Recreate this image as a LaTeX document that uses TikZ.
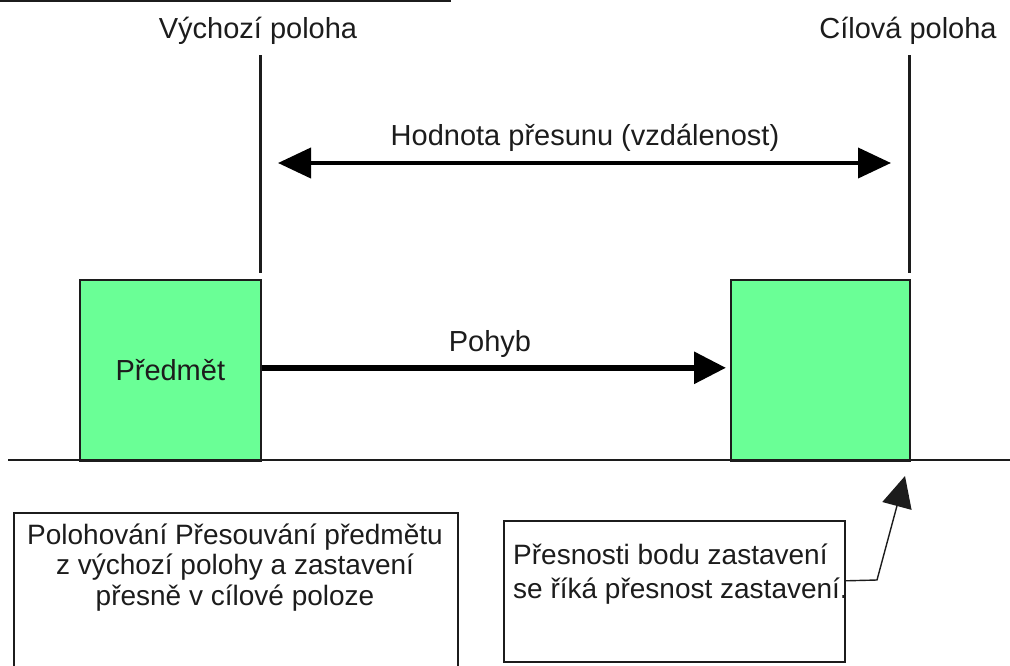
\documentclass[tikz,border=0pt]{standalone}
\usepackage{fontspec}
\setmainfont{Liberation Sans}
\usetikzlibrary{arrows.meta}
\definecolor{boxgreen}{RGB}{106,255,150}
\definecolor{ink}{RGB}{28,28,28}
\begin{document}
\begin{tikzpicture}[x=1pt,y=-1pt,
  lbl/.style={font=\fontsize{29}{31}\selectfont, inner sep=0pt, text=ink},
  notetext/.style={font=\fontsize{28}{30.5}\selectfont, inner sep=0pt, text=ink},
  objbox/.style={draw=ink, line width=1.6pt, fill=boxgreen, minimum width=181pt,
    minimum height=181pt, inner sep=0pt, anchor=north west, text=ink,
    font=\fontsize{29}{31}\selectfont},
  notebox/.style={draw=ink, line width=1.6pt, inner sep=0pt, anchor=north west},
  marker/.style={draw=ink, line width=3pt},
  ground/.style={draw=ink, line width=1.8pt},
  dist/.style={draw=black, line width=4pt,
    {Triangle[length=33pt,width=30pt]}-{Triangle[length=33pt,width=30pt]}},
  move/.style={draw=black, line width=6pt, -{Triangle[length=32pt,width=31pt]}},
  callout/.style={draw=ink, line width=1.4pt, -{Triangle[length=31pt,width=30pt]}}]

\useasboundingbox (0,0) rectangle (1010,665);
\clip (0,0) rectangle (1010,665);

% rule across the top edge
\coordinate (ruleA) at (0,1);
\coordinate (ruleB) at (451,1);
\draw[ground] (ruleA) -- (ruleB);

% position labels and their markers
\node[lbl, anchor=base] (startlbl) at (258,38) {Výchozí poloha};
\node[lbl, anchor=base] (goallbl) at (908,38) {Cílová poloha};
\coordinate (startTop) at (260,55);
\coordinate (startBot) at (260,273);
\coordinate (goalTop) at (909,55);
\coordinate (goalBot) at (909,273);
\draw[marker] (startTop) -- (startBot);
\draw[marker] (goalTop) -- (goalBot);

% travel distance
\coordinate (distL) at (278,163);
\coordinate (distR) at (891,163);
\draw[dist] (distL) -- (distR);
\node[lbl, anchor=base] (distlbl) at (585,145) {Hodnota přesunu (vzdálenost)};

% object at the start and at the target
\node[objbox] (obj) at (79,279) {Předmět};
\node[objbox, minimum width=179pt] (goal) at (730,279) {};

% movement
\draw[move, shorten >=4pt] ([yshift=2.5pt]obj.east) -- ([yshift=2.5pt]goal.west);
\node[lbl, anchor=base] (movelbl) at (490,351) {Pohyb};

% floor
\coordinate (floorL) at (8,460);
\coordinate (floorR) at (1010,460);
\draw[ground] (floorL) -- (floorR);

% explanatory notes (base anchor sits on the last line)
\node[notebox, minimum width=444pt, minimum height=200pt] (note1) at (13,512) {};
\node[notetext, align=center, anchor=base] (note1txt) at (235,605)
  {Polohování Přesouvání předmětu\\z výchozí polohy a zastavení\\přesně v cílové poloze};

\node[notebox, minimum width=341pt, minimum height=141pt] (note2) at (503,520) {};
\node[notetext, align=left, anchor=base west, font=\fontsize{28}{34}\selectfont] (note2txt) at (513,598)
  {Přesnosti bodu zastavení\\se říká přesnost zastavení.};

% pointer to the stopping point
\coordinate (bend) at (877,580);
\coordinate (stopTip) at (905,476);
\draw[callout] ([yshift=10.5pt]note2.east) -- (bend) -- (stopTip);
\end{tikzpicture}
\end{document}
